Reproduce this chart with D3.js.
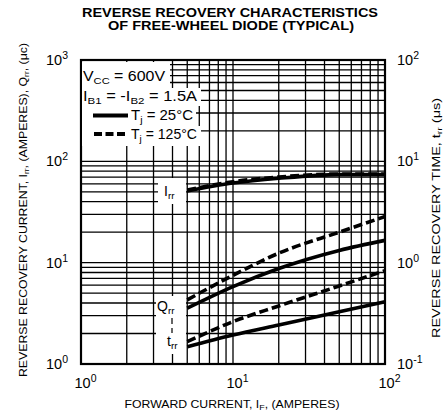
<!DOCTYPE html>
<html>
<head>
<meta charset="utf-8">
<script src="https://cdn.jsdelivr.net/npm/d3@7"></script>
<style>
  body { margin: 0; background: #fff; }
  svg { display: block; font-family: "Liberation Sans", Arial, Helvetica, sans-serif; }
</style>
</head>
<body>
<svg id="chart" width="444" height="417"></svg>
<script>
// forward current I_F (amperes)
var ifAmps = [5, 10, 20, 50, 100];
// reverse recovery current Irr (A) - left axis
var irr25 = [51, 61, 68, 74, 74];
var irr125 = [52, 63, 70, 75, 75];
// reverse recovery charge Qrr (uC) - left axis
var qrr25 = [3.55, 5.8, 8.75, 13.2, 16.6];
var qrr125 = [4.3, 7.5, 12.4, 20.0, 28.5];
// reverse recovery time trr (us) - right axis
var trr25 = [0.148, 0.193, 0.243, 0.328, 0.412];
var trr125 = [0.166, 0.262, 0.374, 0.589, 0.834];

// tick values
var xTicks = [1, 10, 100];
var leftTicks = [1, 10, 100, 1000];
var rightTicks = [0.1, 1, 10, 100];

var svg = d3.select("#chart");
var L = 81, R = 385, T = 60, B = 364;

var x = d3.scaleLog().domain([1, 100]).range([L, R]);
var yL = d3.scaleLog().domain([1, 1000]).range([B, T]);
var yR = d3.scaleLog().domain([0.1, 100]).range([B, T]);

// grid (every 1..9 per decade)
var grid = svg.append("g").attr("stroke", "#000").attr("stroke-width", 1.3);
x.ticks().forEach(function(v){
  grid.append("line").attr("x1", x(v)).attr("x2", x(v)).attr("y1", T).attr("y2", B);
});
yL.ticks().forEach(function(v){
  grid.append("line").attr("x1", L).attr("x2", R).attr("y1", yL(v)).attr("y2", yL(v));
});

svg.append("rect").attr("x", L).attr("y", T).attr("width", R - L).attr("height", B - T)
  .attr("fill", "none").attr("stroke", "#000").attr("stroke-width", 2.2);

// write 10^n labels with a raised exponent
function sup(sel){
  sel.each(function(d){
    var t = d3.select(this);
    var e = Math.round(Math.log10(d));
    t.text(null);
    t.append("tspan").text("10");
    t.append("tspan").attr("font-size", 10.5).attr("dy", -6).text(e);
  });
}

var gx = svg.append("g").attr("transform", "translate(0," + B + ")")
  .call(d3.axisBottom(x).tickValues(xTicks).tickSize(0).tickPadding(14));
var gl = svg.append("g").attr("transform", "translate(" + L + ",0)")
  .call(d3.axisLeft(yL).tickValues(leftTicks).tickSize(0).tickPadding(13));
var gr = svg.append("g").attr("transform", "translate(" + R + ",0)")
  .call(d3.axisRight(yR).tickValues(rightTicks).tickSize(0).tickPadding(12));

[gx, gl, gr].forEach(function(g){
  g.select(".domain").remove();
  g.selectAll("text").attr("font-size", 14.5).attr("fill", "#000")
    .attr("font-family", "Liberation Sans, Arial, sans-serif").call(sup);
});
gx.selectAll("text").attr("dx", 4);

// legend boxes (white) and text
var legendBg = [[82, 62, 88, 26], [82, 88, 119, 18], [82, 106, 114, 20], [82, 126, 119, 20]];
legendBg.forEach(function(b){
  svg.append("rect").attr("x", b[0]).attr("y", b[1]).attr("width", b[2]).attr("height", b[3]).attr("fill", "#fff");
});

function subText(xp, yp, parts, size, len){
  var t = svg.append("text").attr("x", xp).attr("y", yp).attr("font-size", size).attr("fill", "#000");
  if (len) t.attr("textLength", len).attr("lengthAdjust", "spacingAndGlyphs");
  parts.forEach(function(p){
    // p = [text, isSub, backUp]
    var s = t.append("tspan").text(p[0]);
    if (p[1]) s.attr("font-size", size * 0.7).attr("dy", 3);
    else if (p[2]) s.attr("dy", -3);
  });
  return t;
}

subText(83, 81, [["V"], ["CC", 1], [" = 600V", 0, 1]], 14, 82);
subText(83, 100.5, [["I"], ["B1", 1], [" = -I", 0, 1], ["B2", 1], [" = 1.5A", 0, 1]], 14, 114);
subText(131, 120, [["T"], ["j", 1], [" = 25°C", 0, 1]], 14, 62);
subText(131, 139, [["T"], ["j", 1], [" = 125°C", 0, 1]], 14, 66);

svg.append("line").attr("x1", 93).attr("x2", 128).attr("y1", 115.5).attr("y2", 115.5)
  .attr("stroke", "#000").attr("stroke-width", 3.8);
svg.append("line").attr("x1", 94).attr("x2", 128).attr("y1", 134).attr("y2", 134)
  .attr("stroke", "#000").attr("stroke-width", 3.8).attr("stroke-dasharray", "8,3.5");

// curve labels
svg.append("rect").attr("x", 158).attr("y", 178).attr("width", 28).attr("height", 26).attr("fill", "#fff");
svg.append("rect").attr("x", 156).attr("y", 296).attr("width", 30).attr("height", 58).attr("fill", "#fff");

subText(164, 196, [["I"], ["rr", 1]], 14);
subText(157, 311, [["Q"], ["rr", 1]], 14);
subText(167, 346, [["t"], ["rr", 1]], 14);
svg.append("line").attr("x1", 172).attr("x2", 172).attr("y1", 318).attr("y2", 333)
  .attr("stroke", "#000").attr("stroke-width", 1.2).attr("stroke-dasharray", "6,4");

// curves
function series(vals, yScale, dashed){
  var pts = ifAmps.map(function(a, i){ return [a, vals[i]]; });
  var line = d3.line().x(function(d){ return x(d[0]); }).y(function(d){ return yScale(d[1]); })
    .curve(d3.curveMonotoneX);
  var p = svg.append("path").attr("d", line(pts)).attr("fill", "none")
    .attr("stroke", "#000").attr("stroke-width", 3.6);
  if (dashed) p.attr("stroke-dasharray", "9,4");
}
series(irr25, yL, false);
series(irr125, yL, true);
series(qrr25, yL, false);
series(qrr125, yL, true);
series(trr25, yR, false);
series(trr125, yR, true);

// titles
var title = svg.append("g").attr("font-weight", "bold").attr("font-size", 12.5).attr("text-anchor", "middle");
title.append("text").attr("x", 230).attr("y", 17).attr("textLength", 296).attr("lengthAdjust", "spacingAndGlyphs")
  .text("REVERSE RECOVERY CHARACTERISTICS");
title.append("text").attr("x", 231).attr("y", 30).attr("textLength", 246).attr("lengthAdjust", "spacingAndGlyphs")
  .text("OF FREE-WHEEL DIODE (TYPICAL)");

var xt = svg.append("text").attr("x", 232).attr("y", 408).attr("font-size", 11).attr("text-anchor", "middle")
  .attr("textLength", 215).attr("lengthAdjust", "spacingAndGlyphs");
xt.append("tspan").text("FORWARD CURRENT, I");
xt.append("tspan").attr("font-size", 8).attr("dy", 2).text("F");
xt.append("tspan").attr("dy", -2).text(", (AMPERES)");

var ylt = svg.append("text").attr("transform", "translate(27,210) rotate(-90)").attr("font-size", 11.5)
  .attr("text-anchor", "middle").attr("textLength", 334).attr("lengthAdjust", "spacingAndGlyphs");
ylt.append("tspan").text("REVERSE RECOVERY CURRENT, I");
ylt.append("tspan").attr("font-size", 8).attr("dy", 2).text("rr");
ylt.append("tspan").attr("dy", -2).text(", (AMPERES), Q");
ylt.append("tspan").attr("font-size", 8).attr("dy", 2).text("rr");
ylt.append("tspan").attr("dy", -2).text(", (\u03bcc)");

var yrt = svg.append("text").attr("transform", "translate(440,218) rotate(-90)").attr("font-size", 11)
  .attr("text-anchor", "middle").attr("textLength", 240).attr("lengthAdjust", "spacingAndGlyphs");
yrt.append("tspan").text("REVERSE RECOVERY TIME, t");
yrt.append("tspan").attr("font-size", 8).attr("dy", 2).text("rr");
yrt.append("tspan").attr("dy", -2).text(" (\u03bcs)");
</script>
</body>
</html>
